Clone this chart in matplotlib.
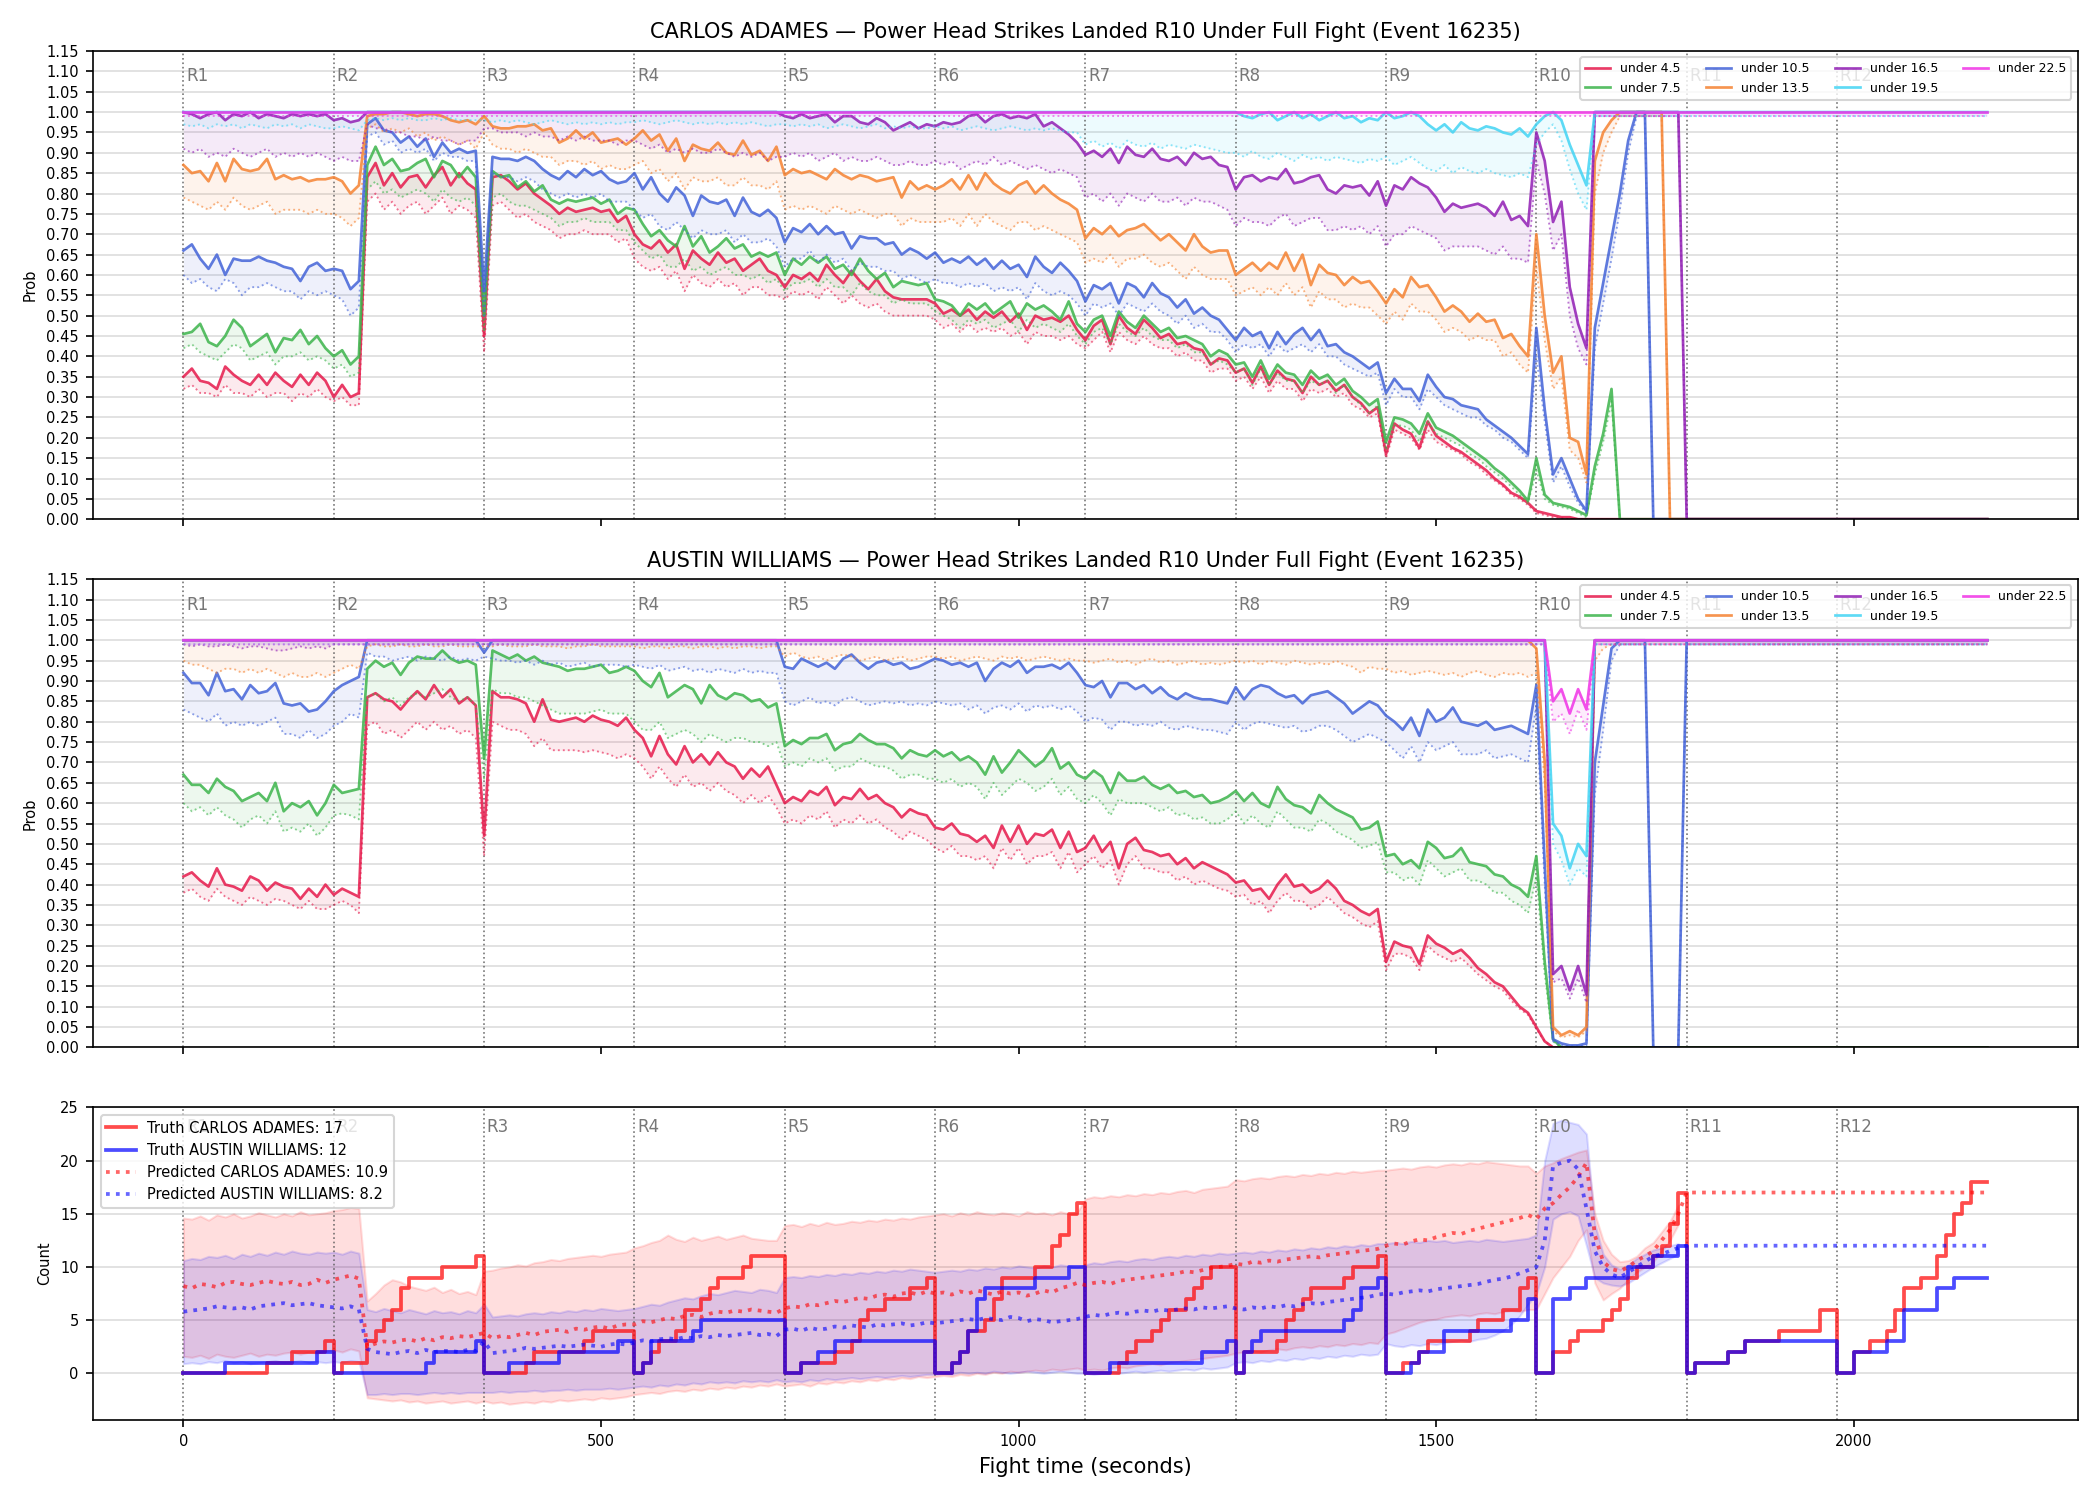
import numpy as np
import matplotlib
matplotlib.use("Agg")
import matplotlib.pyplot as plt

# sampling grid (seconds), one value every 10 s
t = np.arange(0, 2161, 10)
round_starts = list(range(0, 2160, 180))


def pct(*parts):
    # rounds R1..R10 have 18 samples, tail (R11-R12) has 37
    out = []
    for i, p in enumerate(parts):
        want = 37 if i == 10 else 18
        if len(p) != want:
            raise ValueError("part %d has %d values" % (i, len(p)))
        out.extend(p)
    return np.array(out, float) / 100.0


def cnt(*parts):
    out = []
    for i, p in enumerate(parts):
        want = 37 if i == 10 else (19 if i == 11 else 18)
        if len(p) != want:
            raise ValueError("count part %d has %d values" % (i, len(p)))
        out.extend(p)
    return np.array(out, float)


ONE = [100] * 18
ONE99 = [99] * 18
ZERO = [0] * 18

lines = ["under 4.5", "under 7.5", "under 10.5", "under 13.5",
         "under 16.5", "under 19.5", "under 22.5"]
colors = ["#e6194B", "#3cb44b", "#4363d8", "#f58231", "#911eb4", "#42d4f4", "#f032e6"]

# ---------------- CARLOS ADAMES (top) ----------------
c45 = pct(
    [35, 37, 34, 33.5, 32, 37.5, 35.5, 34, 33, 35.5, 33, 36, 34, 32.5, 35.5, 33, 36, 34],
    [30, 33, 30, 31, 84, 87.5, 82, 85, 81.5, 84, 84.5, 81.5, 84.5, 86.5, 82, 85, 82.5, 81],
    [45, 84, 84.5, 83, 81, 82.5, 80, 78.5, 77, 75, 76.5, 75.5, 76, 76.5, 75.5, 76, 73, 74.5],
    [70, 67.5, 66.5, 68.5, 65.5, 67.5, 61.5, 66, 64, 62.5, 65.5, 63, 64, 61, 62.5, 64, 61, 60],
    [57, 60, 59, 60.5, 58.5, 62.5, 60, 58, 61, 58.5, 56.5, 59, 56, 54.5, 54, 54, 54, 54],
    [53, 50.5, 51.5, 50, 51.5, 49, 51, 49.5, 51, 48.5, 50.5, 46.5, 50, 49, 49.5, 48.5, 50, 46.5],
    [44, 47.5, 49, 43, 50, 47, 45.5, 49, 47, 44.5, 45.5, 43, 43.5, 42, 41.5, 38, 39.5, 39],
    [36, 37, 33.5, 37.5, 33, 36.5, 34.5, 34, 31, 35, 33, 34, 31.5, 33, 30, 28.5, 26, 27.5],
    [16, 23.5, 22, 21, 17.5, 24, 20.5, 19, 17.5, 16.5, 15, 13.5, 12, 10, 8.5, 6.5, 5.5, 4],
    [2, 1.5, 1, 0.5, 0.5, 0, 0, 0, 0, 0, 0, 0, 0, 0, 0, 0, 0, 0],
    [0] * 37)
c45_lo = pct(
    [32, 33, 31, 31, 30, 33, 31, 31, 30, 32, 30, 31, 31, 29, 31, 30, 32, 30],
    [29, 30, 28, 28, 78, 80, 76, 78, 75, 77, 78, 75, 77, 79, 75, 77, 76, 74],
    [41, 77, 78, 76, 74, 75, 73, 72, 71, 69, 70, 70, 71, 70, 70, 70, 68, 69],
    [64, 62, 61, 62, 59, 61, 56, 60, 58, 57, 59, 57, 58, 55, 57, 57, 55, 55],
    [54, 56, 55, 56, 54, 57, 55, 53, 55, 53, 52, 53, 51, 50, 50, 50, 50, 50],
    [49, 47, 48, 46, 48, 46, 47, 46, 47, 45, 46, 43, 46, 45, 45, 44, 45, 43],
    [42, 44, 46, 41, 46, 44, 43, 45, 43, 42, 42, 40, 41, 39, 39, 36, 37, 37],
    [34, 35, 32, 35, 31, 34, 32, 32, 29, 32, 31, 32, 30, 31, 28, 27, 25, 26],
    [15, 22, 21, 20, 17, 22, 19, 18, 17, 16, 14, 13, 11, 9.5, 8, 6, 5, 3.5],
    [1.5, 1, 0.5, 0.3, 0, 0, 0, 0, 0, 0, 0, 0, 0, 0, 0, 0, 0, 0],
    [0] * 37)

c75 = pct(
    [45.5, 46, 48, 43.5, 42.5, 45, 49, 47, 42.5, 44, 45.5, 41, 44.5, 44, 46.5, 43, 45, 42],
    [40, 41.5, 38, 40, 87, 91.5, 87, 88.5, 85.5, 86, 87.5, 88.5, 84, 88, 87, 84, 86.5, 84],
    [50, 85.5, 84, 84.5, 81.5, 83, 80.5, 82, 78.5, 77.5, 78.5, 78, 78.5, 79, 77.5, 78.5, 75, 76.5],
    [76, 72.5, 69.5, 71, 68.5, 67, 72, 67, 69.5, 65.5, 67, 69, 66.5, 67.5, 64.5, 65.5, 64.5, 65.5],
    [60, 64, 62.5, 64.5, 63, 64.5, 61.5, 62.5, 60, 64, 61, 59, 60.5, 57, 58.5, 58, 57.5, 58],
    [54, 53.5, 52.5, 50, 53, 51.5, 53, 50.5, 52, 53.5, 49.5, 53, 51.5, 52.5, 51, 49, 53.5, 48],
    [46, 49, 50, 45, 51, 48.5, 47, 50, 48, 46, 47, 44.5, 45, 44, 43, 40, 41.5, 40.5],
    [38, 38.5, 35, 39, 34.5, 38, 36, 35.5, 33, 36.5, 34.5, 35.5, 33, 34.5, 31.5, 30, 28, 29.5],
    [19, 25, 24.5, 23.5, 21, 26, 22.5, 21.5, 20.5, 19, 17.5, 16, 14.5, 12.5, 11, 9, 7, 4.5],
    [15, 6, 4, 3.5, 3, 2, 1, 13, 21, 32, 0, 0, 0, 0, 0, 0, 0, 0],
    [0] * 37)
c75_lo = pct(
    [42, 43, 41, 40, 39, 41, 43, 42, 39, 40, 41, 38, 40, 40, 41, 39, 40, 39],
    [37, 38, 35, 36, 81, 83, 80, 81, 79, 80, 81, 80, 78, 81, 79, 78, 79, 77],
    [46, 79, 80, 78, 77, 77, 76, 75, 74, 72, 73, 73, 74, 73, 73, 73, 71, 71],
    [68, 66, 64, 65, 62, 62, 64, 61, 62, 60, 61, 62, 60, 60, 59, 60, 58, 59],
    [56, 58, 58, 59, 57, 59, 57, 57, 55, 58, 56, 55, 55, 53, 54, 53, 53, 53],
    [51, 50, 49, 47, 49, 48, 49, 47, 48, 49, 46, 49, 47, 48, 47, 46, 48, 45],
    [43, 46, 47, 43, 48, 46, 45, 47, 45, 44, 44, 42, 43, 41, 41, 38, 39, 38],
    [36, 37, 33, 37, 33, 36, 34, 34, 31, 34, 33, 34, 31, 33, 30, 28, 26, 28],
    [17, 23, 23, 22, 19, 24, 21, 20, 19, 18, 16, 15, 13, 11.5, 10, 8, 6, 4],
    [12, 5, 3.5, 3, 2.5, 1.5, 0.5, 11, 19, 29, 0, 0, 0, 0, 0, 0, 0, 0],
    [0] * 37)

c105 = pct(
    [66, 67.5, 64, 61.5, 65, 60, 64, 63.5, 63.5, 64.5, 63.5, 63, 62, 61.5, 58.5, 62, 63, 61],
    [61.5, 61, 56.5, 58.5, 97, 98.5, 95.5, 95, 92.5, 94, 91.5, 93.5, 89, 92.5, 90, 91, 90, 90.5],
    [56, 89, 88.5, 88.5, 88, 89, 88, 86, 84.5, 83.5, 85.5, 84, 86, 84.5, 85.5, 83.5, 82.5, 83],
    [85, 81, 84, 80, 78, 81.5, 79.5, 74.5, 79.5, 78, 77.5, 78.5, 74.5, 79, 75.5, 74.5, 76, 74],
    [68, 71.5, 70.5, 72.5, 70, 72, 70, 70.5, 66.5, 69.5, 69, 69, 67.5, 68, 65, 66.5, 65.5, 64],
    [65.5, 63, 64, 63, 64.5, 62.5, 64, 61.5, 63.5, 61.5, 62.5, 59.5, 64.5, 62, 60.5, 63, 61, 58.5],
    [53.5, 57.5, 56.5, 58, 53, 58, 57, 54.5, 58, 55.5, 54.5, 52, 54, 50.5, 52, 50, 49, 46.5],
    [44, 47, 45, 46, 42, 46, 43, 45.5, 47, 44, 46.5, 42.5, 43, 41, 40, 38.5, 37, 38.5],
    [31, 34.5, 32, 32, 29, 35.5, 32.5, 30, 29.5, 28, 27.5, 27, 24.5, 23, 21.5, 20, 18, 16],
    [47, 27, 11, 15, 10, 5, 2, 47, 58, 69, 80, 93, 100, 100, 0, 0, 0, 0],
    [0] * 37)
c105_lo = pct(
    [60, 58, 59, 57, 56, 59, 58, 55, 57, 57, 58, 57, 56, 56, 54, 56, 55, 56],
    [55, 54, 50, 52, 94, 95, 92, 93, 90, 91, 90, 91, 88, 90, 89, 89, 88, 88],
    [50, 85, 84, 84, 83, 84, 83, 81, 80, 79, 80, 79, 80, 79, 80, 78, 78, 78],
    [76, 74, 75, 72, 71, 73, 71, 69, 71, 70, 70, 71, 68, 70, 68, 68, 69, 67],
    [62, 64, 64, 66, 63, 65, 63, 64, 61, 63, 62, 62, 61, 61, 59, 60, 59, 58],
    [59, 58, 58, 57, 58, 57, 58, 56, 57, 56, 57, 54, 58, 56, 55, 56, 55, 53],
    [50, 53, 52, 53, 50, 53, 52, 51, 53, 51, 50, 48, 50, 47, 48, 46, 46, 44],
    [41, 43, 42, 43, 40, 43, 41, 42, 43, 41, 43, 40, 40, 38, 37, 36, 35, 36],
    [28, 32, 30, 30, 27, 32, 30, 28, 27, 26, 25, 25, 23, 22, 20, 19, 17, 15],
    [40, 24, 9, 13, 8, 4, 1.5, 42, 53, 64, 76, 90, 99, 99, 0, 0, 0, 0],
    [0] * 37)

c135 = pct(
    [87, 85, 85.5, 83, 87.5, 83, 88.5, 86, 85.5, 86, 88.5, 83.5, 84.5, 83.5, 84, 83, 83.5, 83.5],
    [84, 83, 80, 82, 99, 99.5, 99.5, 100, 100, 99.5, 99, 99.5, 99.5, 99, 98, 97.5, 98, 97],
    [99, 96.5, 96, 96, 96.5, 96.5, 97, 95.5, 96, 92.5, 93.5, 95.5, 93.5, 95, 92.5, 93, 93.5, 92],
    [93.5, 95.5, 93, 94.5, 90.5, 93.5, 88, 92, 91, 90.5, 92.5, 90, 89.5, 93, 89.5, 90.5, 88, 91.5],
    [84.5, 86, 85, 85.5, 84.5, 83.5, 86, 84.5, 83.5, 84.5, 84, 83, 83.5, 84, 79, 83, 81, 82],
    [81, 82, 83.5, 81, 84.5, 81, 85, 82.5, 81, 80, 82, 83, 80, 82, 80, 78.5, 77.5, 76],
    [69, 71.5, 70, 72, 69.5, 71, 71.5, 72.5, 70.5, 68.5, 70, 68, 66, 70, 67, 65.5, 66, 66],
    [60, 61.5, 63, 61, 63, 61.5, 65.5, 61, 65, 57.5, 62.5, 60.5, 60, 57.5, 59.5, 58, 58.5, 56],
    [53, 56.5, 54.5, 59.5, 57, 57.5, 54.5, 51, 52.5, 51, 48.5, 50.5, 48.5, 49, 44.5, 45.5, 42.5, 40],
    [70, 50, 36, 40, 20, 19, 11, 88, 95, 98, 100, 100, 100, 100, 100, 100, 0, 0],
    [0] * 37)
c135_lo = pct(
    [79, 78, 77, 76, 78, 76, 79, 77, 76, 77, 78, 75, 76, 76, 76, 75, 76, 75],
    [75, 74, 72, 74, 96, 97, 95, 96, 95, 96, 94, 95, 93, 94, 93, 92, 93, 91],
    [95, 92, 91, 91, 90, 91, 90, 89, 89, 87, 88, 88, 87, 88, 86, 87, 86, 86],
    [87, 88, 85, 86, 83, 85, 81, 84, 83, 83, 84, 82, 82, 84, 82, 82, 81, 83],
    [76, 77, 76, 77, 76, 75, 77, 76, 75, 76, 75, 74, 75, 75, 72, 74, 73, 73],
    [73, 73, 74, 72, 75, 72, 75, 73, 72, 71, 73, 73, 71, 72, 71, 70, 69, 68],
    [63, 64, 63, 65, 62, 64, 64, 65, 63, 62, 63, 61, 59, 62, 60, 59, 59, 59],
    [55, 56, 57, 55, 57, 55, 58, 55, 57, 52, 56, 54, 54, 52, 53, 52, 52, 50],
    [48, 51, 49, 53, 51, 51, 49, 46, 47, 46, 44, 45, 44, 44, 40, 41, 38, 36],
    [62, 44, 32, 35, 17, 15, 9, 80, 90, 95, 99, 99, 99, 99, 99, 99, 0, 0],
    [0] * 37)

c165 = pct(
    [100, 99.5, 98.5, 99.5, 100, 98, 99.5, 99, 100, 98.5, 99.5, 99, 98.5, 99.5, 99, 99.5, 99, 99.5],
    [98, 98.5, 97.5, 98] + [100] * 14,
    ONE,
    ONE,
    [99, 98.5, 99.5, 98.5, 99, 99.5, 97.5, 99, 99, 97.5, 97, 98.5, 97.5, 95.5, 96.5, 97.5, 96, 97],
    [96.5, 97.5, 97, 97.5, 99, 99.5, 97.5, 99, 99.5, 98.5, 99, 98.5, 99.5, 96.5, 97.5, 96, 94.5, 92.5],
    [89.5, 90.5, 89, 91, 87.5, 91.5, 89.5, 89, 91, 88.5, 88, 89, 87, 90, 88.5, 89, 87, 86.5],
    [81, 84, 84.5, 83, 84, 83.5, 86, 82.5, 83, 84, 84.5, 81, 80, 82, 81.5, 82, 79.5, 83],
    [77, 82, 81, 84, 82.5, 81.5, 79, 75.5, 77.5, 76.5, 77, 77.5, 76.5, 74.5, 78, 73.5, 74.5, 72],
    [95, 88, 73, 78, 57, 48, 42] + [100] * 11,
    [0] * 37)
c165_lo = pct(
    [91, 90, 91, 89, 90, 89, 91, 90, 89, 90, 91, 89, 90, 89, 90, 89, 90, 89],
    [88, 89, 88, 88, 97, 96, 96, 95, 95, 94, 94, 93, 94, 93, 93, 92, 93, 93],
    [96, 96, 95, 95, 95, 94, 95, 94, 94, 93, 94, 93, 94, 93, 93, 93, 92, 93],
    [93, 92, 91, 92, 90, 91, 90, 91, 90, 90, 91, 90, 89, 90, 89, 90, 88, 89],
    [89, 90, 89, 90, 88, 89, 90, 88, 89, 88, 88, 89, 88, 87, 87, 88, 87, 87],
    [88, 87, 88, 86, 87, 88, 87, 89, 87, 88, 87, 86, 87, 86, 85, 86, 85, 84],
    [79, 80, 78, 80, 77, 80, 79, 78, 80, 78, 78, 79, 77, 79, 78, 78, 77, 76],
    [72, 74, 73, 73, 72, 74, 75, 72, 73, 74, 74, 71, 71, 72, 71, 72, 70, 72],
    [67, 70, 70, 72, 71, 70, 69, 66, 67, 67, 67, 67, 66, 65, 67, 64, 64, 63],
    [88, 80, 66, 70, 50, 42, 38] + [99] * 11,
    [0] * 37)

c195 = pct(ONE, ONE, ONE, ONE, ONE, ONE, ONE,
    [100, 99, 98.5, 99.5, 100, 98, 99, 100, 98.5, 99.5, 98, 99, 100, 98.5, 99, 97.5, 98.5, 98],
    [100, 98.5, 99, 100, 99, 97, 95.5, 97, 95, 97.5, 96, 95.5, 96.5, 96, 95, 94.5, 96, 94],
    [97, 99, 100, 98, 92, 87, 82] + [100] * 11,
    [100] * 37)
c195_lo = pct(
    [97, 96.5, 97, 96, 97, 96.5, 97, 96, 97, 96.5, 96, 97, 96.5, 97, 96, 97, 96.5, 96],
    [96, 96.5, 96, 95.5, 98, 98.5, 98, 98.5, 98, 98.5, 98, 98, 98.5, 98, 98.5, 98, 98, 98],
    [98, 97.5, 98, 97.5, 98, 97.5, 97, 97.5, 98, 97.5, 97, 97.5, 97, 97.5, 97, 97.5, 97, 97.5],
    [97.5, 98, 97.5, 97, 97.5, 98, 97.5, 97, 97.5, 97, 97.5, 97, 97.5, 97, 97.5, 97, 96.5, 97],
    [97, 96.5, 97, 96.5, 97, 96, 96.5, 97, 96.5, 96, 96.5, 97, 96, 96.5, 96, 96.5, 96, 96],
    [96.5, 96, 96.5, 95.5, 96, 96.5, 96, 95.5, 96, 96.5, 96, 95.5, 96, 95.5, 96, 95.5, 95, 95],
    [92, 93, 91.5, 92.5, 91, 93, 92, 91.5, 92.5, 91, 92, 91.5, 91, 92, 91.5, 91, 90.5, 90],
    [90, 89, 90.5, 89, 88.5, 90, 89, 88, 89.5, 88.5, 89, 88, 89, 88.5, 88, 87.5, 88.5, 88],
    [89, 87, 88, 89, 87.5, 86, 85.5, 87, 85, 86.5, 85.5, 85, 86, 85, 84.5, 84, 85, 84],
    [92, 95, 97, 93, 86, 80, 76] + [99] * 11,
    [99] * 37)

c225 = pct(ONE, ONE, ONE, ONE, ONE, ONE, ONE, ONE, ONE, ONE, [100] * 37)
c225_lo = pct(ONE99, ONE99, ONE99, ONE99, ONE99, ONE99, ONE99, ONE99, ONE99, ONE99, [99] * 37)

# ---------------- AUSTIN WILLIAMS (middle) ----------------
a45 = pct(
    [42, 43, 41, 39.5, 44, 40, 39.5, 38.5, 42, 41, 38.5, 40.5, 39.5, 39, 36.5, 39, 37, 40],
    [37.5, 39, 38, 37, 86, 87, 85.5, 85, 83, 85.5, 87.5, 85.5, 89, 86, 88, 84.5, 86, 84],
    [52, 87.5, 86, 86, 85.5, 84.5, 80, 85.5, 80.5, 80, 80.5, 81, 80, 81.5, 80.5, 80, 79, 81],
    [78, 76, 71.5, 76.5, 72, 69.5, 74, 70, 72, 69.5, 72.5, 70, 69, 66, 68.5, 66.5, 69, 64.5],
    [60, 61.5, 60.5, 63, 62, 64, 59.5, 61.5, 61, 63.5, 61, 62, 60, 59, 56.5, 58.5, 57.5, 57],
    [54, 53.5, 55, 52.5, 52, 50.5, 52, 49, 54.5, 50.5, 54.5, 50, 52.5, 52, 53.5, 49, 53, 48],
    [49, 52, 48, 50.5, 44, 50, 51.5, 48.5, 48, 47, 47.5, 45, 46.5, 44, 45.5, 44.5, 43.5, 42.5],
    [40.5, 41, 38.5, 39, 36.5, 40, 42.5, 39.5, 40, 38, 39, 41, 39, 36, 35, 33.5, 32.5, 34],
    [21, 26, 25, 24.5, 20.5, 27.5, 25.5, 24.5, 23, 24, 22, 19.5, 18, 16, 15, 12.5, 10, 8.5],
    [5, 1.5] + [0] * 16,
    [0] * 37)
a45_lo = pct(
    [38, 39, 37, 36, 39, 37, 36, 35, 37, 36, 35, 36.5, 36, 35, 34, 36, 34, 34],
    [35, 36, 35, 33, 79, 80, 77, 78, 76, 78, 80, 78, 80, 78, 79, 77, 78, 76],
    [47, 80, 79, 78, 78, 77, 74, 76, 73, 73, 73, 73, 72.5, 73, 72.5, 72, 71, 72],
    [71, 69, 66, 69, 66, 64, 67, 64, 65, 63, 65, 63, 62, 60, 62, 60, 62, 59],
    [55, 56, 55, 57, 56, 58, 54, 56, 55, 57, 55, 56, 54, 53, 51, 53, 52, 51],
    [49, 48, 49.5, 47, 47, 46, 47, 44, 49, 46, 49, 45, 47, 47, 48, 44, 48, 43],
    [45, 47, 44, 46, 40, 45, 47, 44, 44, 43, 43, 41, 42, 40, 41, 40, 39, 38.5],
    [37, 37.5, 35, 36, 33, 36, 38, 36, 36, 34, 35, 37, 35, 33, 32, 30.5, 29.5, 31],
    [19, 23, 23, 22, 19, 25, 23, 22, 21, 22, 20, 18, 16.5, 15, 14, 11.5, 9.5, 8],
    [4.5, 1.5] + [0] * 16,
    [0] * 37)

a75 = pct(
    [67, 64.5, 64.5, 62.5, 66, 64, 63, 60.5, 61.5, 62.5, 60.5, 65, 58, 60, 59, 60.5, 57, 60],
    [64.5, 62.5, 63, 63.5, 93, 95, 93.5, 94.5, 91.5, 94.5, 96, 95.5, 95.5, 97.5, 95.5, 94.5, 95, 94],
    [71, 97.5, 96.5, 95.5, 96.5, 95, 96, 94.5, 94, 93.5, 92.5, 93, 93, 93.5, 94, 92, 92.5, 93.5],
    [92.5, 90, 88.5, 92, 86, 87.5, 89, 88, 84.5, 89, 86.5, 85.5, 87, 86.5, 85, 85.5, 83.5, 84.5],
    [74, 75.5, 74.5, 76, 76, 77, 73, 74.5, 75, 77, 75.5, 74.5, 74.5, 73.5, 71, 73, 72, 71.5],
    [73, 71.5, 72.5, 70.5, 71.5, 70, 67, 71.5, 67.5, 70, 73, 71, 69, 70.5, 73.5, 68.5, 70, 67],
    [66, 68, 66.5, 62.5, 67.5, 65.5, 65.5, 66.5, 64.5, 63.5, 64.5, 62.5, 63, 61.5, 62, 60, 60.5, 61.5],
    [63, 60.5, 62.5, 60, 59, 64, 61, 59.5, 59, 57.5, 62, 60, 58.5, 57.5, 56.5, 53.5, 54, 55.5],
    [47, 47.5, 45, 46, 44, 50.5, 49, 46.5, 47, 49, 45.5, 45, 44.5, 42.5, 42, 40, 39, 37],
    [47, 21, 2] + [0] * 15,
    [0] * 37)
a75_lo = pct(
    [60, 58, 59, 57, 59, 57, 56, 54, 56, 57, 55, 58, 53, 54, 53, 55, 52, 54],
    [57, 57.5, 57, 56, 86, 87, 85, 86, 84, 86, 87, 86, 87, 88, 86, 85, 86, 84],
    [66, 88, 87, 87, 86, 86, 85, 84, 83, 82, 82, 82, 82, 82.5, 83, 82, 82, 82],
    [80, 78, 78, 80, 76, 77, 78, 77, 75, 77, 76, 75, 76, 76, 75, 75, 74, 75],
    [69, 70, 69, 71, 70, 71, 68, 69, 69, 71, 70, 69, 69, 68, 66, 67, 67, 66],
    [66, 65, 66, 64, 65, 64, 61, 65, 62, 64, 66, 65, 63, 64, 66, 62, 64, 61],
    [60, 62, 60, 57, 61, 60, 60, 60, 59, 58, 59, 57, 57.5, 56, 56.5, 55, 55, 56],
    [58, 55, 57, 55, 54, 58, 56, 54, 54, 53, 56, 55, 53, 52, 51, 49, 49.5, 50.5],
    [43, 43, 41, 42, 40, 46, 44, 42, 43, 44, 41, 41, 40, 38, 38, 36, 35, 33],
    [42, 18, 1.5] + [0] * 15,
    [0] * 37)

a105 = pct(
    [92, 89.5, 89.5, 86.5, 92, 87.5, 88, 85.5, 89, 87, 87.5, 89.5, 84.5, 84, 84.5, 82.5, 83, 85],
    [87.5, 89, 90, 91] + [100] * 14,
    [97] + [100] * 17,
    ONE,
    [93.5, 93, 95.5, 94.5, 93.5, 94.5, 93, 95.5, 96.5, 94.5, 93, 94.5, 95, 94, 94.5, 93, 93.5, 94.5],
    [95.5, 95, 94, 94.5, 93.5, 94.5, 90, 93, 94.5, 93.5, 95, 92, 93.5, 93.5, 94, 93, 94.5, 92],
    [89, 88.5, 90, 86, 89.5, 89.5, 88, 89, 87, 88.5, 86.5, 85.5, 87, 86, 85.5, 85.5, 85, 84.5],
    [88.5, 85.5, 88, 89, 88.5, 87, 86, 86.5, 84.5, 86.5, 87, 87.5, 86, 84.5, 82, 83.5, 85, 84],
    [81.5, 80, 78, 81, 76.5, 83, 80, 81, 83.5, 80, 79.5, 79, 80, 78, 78.5, 79, 78, 77],
    [89, 45, 2, 1, 0.5, 0.5, 1, 70, 84, 98, 100, 100, 100, 100, 0, 0, 0, 0],
    [100] * 37)
a105_lo = pct(
    [83, 82, 81, 80, 82, 79, 80, 79, 80, 79, 80, 81, 77, 77, 76, 78, 76, 77],
    [79, 80, 82, 81, 97, 96, 96, 95, 95.5, 96, 95, 96, 95.5, 95, 96, 95, 95.5, 95],
    [96, 95.5, 95, 95, 94.5, 95, 94, 95, 94, 94.5, 93.5, 94, 94.5, 93.5, 94, 94, 94, 93.5],
    [94, 93.5, 93, 94, 92.5, 93, 93.5, 92.5, 93, 92, 93, 92.5, 92, 93, 92, 92.5, 92, 92],
    [85, 84, 85, 86, 84.5, 85, 84, 85.5, 86, 85, 84, 84.5, 85, 84.5, 85, 84, 84.5, 84],
    [85, 84.5, 84, 84.5, 83, 84, 82, 83.5, 84, 83, 84.5, 82.5, 84, 83.5, 84, 83, 84, 82.5],
    [80, 81, 80.5, 78, 80, 80, 79, 79.5, 79, 80, 78.5, 78, 79, 78.5, 78, 78, 77.5, 77],
    [80, 78, 79.5, 80, 79.5, 79, 78.5, 79, 77.5, 78, 79, 79, 78, 76.5, 75, 76, 77, 76],
    [75, 73, 71, 74, 70, 75, 73, 74, 75, 72, 72, 72, 73, 71, 71.5, 72, 71, 70],
    [84, 40, 1.5, 0.5, 0.3, 0.3, 0.5, 62, 78, 95, 99, 99, 99, 99, 0, 0, 0, 0],
    [99] * 37)

a135 = pct(ONE, ONE, ONE, ONE, ONE, ONE, ONE, ONE, ONE,
    [98, 70, 5, 3, 4, 3, 5] + [100] * 11,
    [100] * 37)
a135_lo = pct(
    [95, 94, 94, 93, 92, 93, 93, 92, 93, 92, 93, 92, 91, 92, 91, 91, 92, 91],
    [92, 93, 94, 93, 98.5, 99, 98.5, 98.5, 99, 98.5, 98.5, 99, 98.5, 98.5, 99, 98.5, 98.5, 98.5],
    [98.5, 98.5, 99, 98.5, 98.5, 98.5, 99, 98.5, 98.5, 98.5, 98, 98.5, 98.5, 99, 98.5, 98.5, 98.5, 98.5],
    [98.5, 98, 98.5, 98.5, 98, 98.5, 98.5, 98, 98.5, 98.5, 98, 98.5, 98, 98.5, 98.5, 98, 98.5, 98.5],
    [96, 97, 96, 95.5, 96, 95, 96, 96.5, 96, 95, 95.5, 96, 95, 95.5, 96, 95, 95.5, 96],
    [96, 95.5, 96, 95, 95.5, 96, 95.5, 95, 96, 95.5, 96, 95, 95.5, 96, 95.5, 95, 95.5, 95],
    [95, 94.5, 95, 95.5, 94.5, 95, 94, 95, 95.5, 94.5, 95, 94, 94.5, 95, 94, 94.5, 94, 94.5],
    [95, 94.5, 95, 94, 95, 94.5, 94, 95, 94.5, 94, 94.5, 94, 95, 94, 93.5, 92, 93.5, 93],
    [93, 92, 92.5, 91.5, 92, 92.5, 92, 91.5, 92, 91, 92, 92.5, 91.5, 91, 92, 91.5, 92, 91],
    [92, 65, 4, 2.5, 3, 2.5, 4, 95, 98] + [99] * 9,
    [99] * 37)

a165 = pct(ONE, ONE, ONE, ONE, ONE, ONE, ONE, ONE, ONE,
    [100, 100, 18, 20, 14, 20, 13] + [100] * 11,
    [100] * 37)
a165_lo = pct(
    [99, 98.5, 99, 98.5, 98.5, 99, 98.5, 98, 98.5, 98.5, 98, 97.5, 97.5, 98, 98.5, 98, 98.5, 98],
    ONE99, ONE99, ONE99, ONE99, ONE99, ONE99, ONE99, ONE99,
    [99, 99, 16, 17, 12, 17, 11] + [99] * 11,
    [99] * 37)

a195 = pct(ONE, ONE, ONE, ONE, ONE, ONE, ONE, ONE, ONE,
    [100, 100, 55, 52, 44, 50, 47] + [100] * 11,
    [100] * 37)
a195_lo = pct(ONE99, ONE99, ONE99, ONE99, ONE99, ONE99, ONE99, ONE99, ONE99,
    [99, 99, 50, 46, 40, 44, 42] + [99] * 11,
    [99] * 37)

a225 = pct(ONE, ONE, ONE, ONE, ONE, ONE, ONE, ONE, ONE,
    [100, 100, 85, 88, 82, 88, 83] + [100] * 11,
    [100] * 37)
a225_lo = pct(ONE99, ONE99, ONE99, ONE99, ONE99, ONE99, ONE99, ONE99, ONE99,
    [99, 99, 80, 82, 77, 83, 78] + [99] * 11,
    [99] * 37)

# ---------------- counts (bottom) ----------------
truth_ca = cnt(
    [0, 0, 0, 0, 0, 0, 0, 0, 0, 0, 1, 1, 1, 2, 2, 2, 2, 3],
    [0, 1, 1, 1, 3, 4, 5, 6, 8, 9, 9, 9, 9, 10, 10, 10, 10, 11],
    [0, 0, 0, 0, 0, 1, 2, 2, 2, 2, 2, 2, 3, 4, 4, 4, 4, 4],
    [0, 1, 2, 3, 3, 4, 6, 6, 7, 8, 9, 9, 9, 10, 11, 11, 11, 11],
    [0, 0, 1, 1, 1, 1, 2, 2, 3, 5, 6, 6, 7, 7, 7, 8, 8, 9],
    [0, 0, 1, 2, 4, 4, 5, 7, 9, 9, 9, 9, 10, 10, 12, 13, 15, 16],
    [0, 0, 0, 0, 1, 2, 3, 3, 4, 5, 6, 6, 7, 8, 9, 10, 10, 10],
    [0, 2, 2, 2, 2, 3, 5, 6, 7, 8, 8, 8, 8, 9, 10, 10, 10, 11],
    [0, 0, 1, 1, 2, 3, 3, 3, 3, 3, 4, 5, 5, 5, 6, 6, 8, 9],
    [0, 0, 2, 2, 3, 4, 4, 4, 5, 6, 7, 9, 10, 10, 11, 12, 14, 17],
    [0, 1, 1, 1, 1, 2, 2, 3, 3, 3, 3, 4, 4, 4, 4, 4, 6, 6] +
    [0, 0, 2, 2, 3, 3, 4, 6, 8, 8, 9, 9, 11, 13, 15, 16, 18, 18, 18])
truth_aw = cnt(
    [0, 0, 0, 0, 0, 1, 1, 1, 1, 1, 1, 1, 1, 1, 1, 1, 2, 2],
    [0, 0, 0, 0, 0, 0, 0, 0, 0, 0, 0, 1, 2, 2, 2, 2, 2, 3],
    [0, 0, 0, 1, 1, 1, 1, 1, 1, 2, 2, 2, 2, 2, 2, 2, 3, 3],
    [0, 1, 3, 3, 3, 3, 3, 4, 5, 5, 5, 5, 5, 5, 5, 5, 5, 5],
    [0, 0, 1, 1, 2, 2, 3, 3, 3, 3, 3, 3, 3, 3, 3, 3, 3, 3],
    [0, 0, 1, 2, 4, 7, 8, 8, 8, 8, 8, 8, 9, 9, 9, 9, 10, 10],
    [0, 0, 0, 1, 1, 1, 1, 1, 1, 1, 1, 1, 1, 1, 2, 2, 2, 3],
    [0, 2, 3, 4, 4, 4, 4, 4, 4, 4, 4, 4, 4, 5, 6, 8, 8, 9],
    [0, 0, 0, 1, 2, 2, 2, 4, 4, 4, 4, 4, 4, 4, 4, 5, 5, 7],
    [0, 0, 7, 7, 8, 8, 9, 9, 9, 9, 9, 10, 10, 10, 11, 11, 11, 12],
    [0, 1, 1, 1, 1, 2, 2, 3, 3, 3, 3, 3, 3, 3, 3, 3, 3, 3] +
    [0, 0, 2, 2, 2, 2, 3, 3, 6, 6, 6, 6, 8, 8, 9, 9, 9, 9, 9])

pred_ca = cnt(
    [8.2, 8.0, 8.4, 8.3, 8.1, 8.5, 8.6, 8.4, 8.3, 8.5, 8.7, 8.5, 8.4, 8.6, 8.3, 8.4, 8.8, 8.5],
    [8.8, 9.0, 9.2, 8.9, 2.5, 2.8, 3.0, 2.9, 3.1, 3.2, 3.0, 3.3, 3.1, 3.4, 3.3, 3.5, 3.4, 3.6],
    [3.8, 3.3, 3.5, 3.4, 3.6, 3.8, 3.6, 3.9, 4.0, 4.1, 3.9, 4.2, 4.1, 4.3, 4.4, 4.2, 4.5, 4.6],
    [4.6, 4.9, 4.8, 5.0, 5.2, 5.1, 5.4, 5.5, 5.3, 5.6, 5.8, 5.7, 5.9, 5.8, 6.0, 5.9, 5.8, 5.7],
    [6.1, 6.3, 6.2, 6.5, 6.4, 6.6, 6.8, 6.7, 6.9, 7.1, 7.0, 7.3, 7.4, 7.2, 7.5, 7.6, 7.4, 7.7],
    [7.5, 7.6, 7.4, 7.7, 7.5, 7.8, 7.6, 7.4, 7.7, 7.5, 7.6, 7.3, 7.5, 7.8, 7.6, 8.0, 8.2, 8.5],
    [8.3, 8.5, 8.6, 8.4, 8.7, 8.8, 8.9, 9.0, 9.1, 9.2, 9.3, 9.4, 9.6, 9.5, 9.7, 9.9, 10.0, 10.1],
    [10.3, 10.2, 10.5, 10.4, 10.6, 10.5, 10.7, 10.8, 10.9, 11.0, 10.9, 11.1, 11.2, 11.3, 11.4, 11.5, 11.6, 11.7],
    [12.0, 12.2, 12.1, 12.4, 12.6, 12.5, 12.8, 13.0, 13.2, 13.1, 13.4, 13.6, 13.8, 14.0, 14.2, 14.4, 14.6, 14.9],
    [14.5, 15.5, 16.0, 16.8, 17.5, 18.5, 19.8, 13.0, 10.5, 9.8, 9.6, 10.0, 10.6, 11.0, 11.5, 12.5, 13.5, 15.0],
    [17] * 18 + [17] * 19)
pred_aw = cnt(
    [5.8, 5.9, 6.0, 6.1, 6.3, 6.2, 6.1, 6.2, 6.0, 6.3, 6.4, 6.5, 6.6, 6.4, 6.5, 6.6, 6.4, 6.3],
    [6.2, 6.1, 6.3, 6.0, 2.3, 2.0, 1.9, 1.8, 2.0, 2.1, 1.9, 2.2, 2.0, 2.1, 2.1, 2.0, 2.2, 2.1],
    [3.0, 1.9, 2.0, 2.1, 2.2, 2.4, 2.3, 2.4, 2.5, 2.6, 2.5, 2.6, 2.7, 2.6, 2.5, 2.7, 2.8, 2.7],
    [2.9, 3.1, 3.0, 3.2, 3.3, 3.2, 3.4, 3.3, 3.5, 3.4, 3.6, 3.5, 3.6, 3.7, 3.8, 3.6, 3.7, 3.5],
    [4.1, 4.2, 4.0, 4.3, 4.1, 4.2, 4.4, 4.3, 4.5, 4.4, 4.3, 4.6, 4.5, 4.6, 4.7, 4.5, 4.6, 4.8],
    [4.7, 4.8, 4.9, 5.0, 5.1, 5.0, 5.2, 5.1, 5.0, 5.3, 5.2, 4.9, 5.1, 5.0, 4.8, 4.9, 5.0, 5.1],
    [5.3, 5.5, 5.4, 5.6, 5.7, 5.6, 5.8, 5.9, 5.8, 6.0, 5.9, 6.0, 6.1, 6.0, 6.2, 6.1, 6.2, 6.3],
    [6.1, 6.0, 6.2, 6.1, 6.3, 6.2, 6.4, 6.3, 6.5, 6.6, 6.5, 6.7, 6.8, 6.9, 7.0, 7.1, 7.2, 7.4],
    [7.5, 7.4, 7.6, 7.7, 7.8, 7.7, 7.9, 8.0, 8.1, 8.2, 8.3, 8.4, 8.6, 8.8, 8.9, 9.1, 9.4, 9.7],
    [10.0, 12.5, 19.5, 19.8, 20.0, 19.2, 15.5, 11.5, 10.0, 9.3, 9.0, 9.5, 10.0, 10.5, 11.0, 11.2, 11.5, 11.8],
    [12] * 18 + [12] * 19)

# prediction bands, R1..R10 only (t = 0..1790)
ca_hi = np.array(
    [14.6, 14.5, 14.8, 14.4, 14.9, 14.7, 15.0, 14.6, 14.8, 15.1, 14.9, 14.7, 15.0, 14.8, 15.2, 14.9, 15.0, 15.1] +
    [15.3, 15.4, 15.6, 15.5, 6.8, 7.5, 8.3, 8.8, 8.6, 8.2, 8.0, 7.8, 8.1, 7.6, 7.9, 7.5, 7.7, 7.4] +
    [9.6, 9.7, 9.9, 10.0, 10.2, 10.1, 10.4, 10.5, 10.7, 10.6, 10.8, 10.9, 11.0, 11.1, 11.0, 11.2, 11.3, 11.4] +
    [11.8, 12.0, 12.3, 12.5, 13.0, 12.6, 12.4, 12.8, 12.5, 12.7, 12.9, 12.6, 12.8, 13.0, 12.7, 12.6, 12.5, 12.5] +
    [13.9, 14.0, 13.8, 14.1, 13.9, 14.2, 14.0, 14.1, 14.3, 14.2, 14.4, 14.3, 14.5, 14.4, 14.6, 14.5, 14.7, 14.8] +
    [14.9, 15.0, 14.8, 15.1, 14.9, 15.2, 15.0, 14.9, 15.1, 15.0, 14.8, 15.2, 15.0, 15.1, 14.9, 15.2, 15.0, 15.1] +
    [16.4, 16.6, 16.5, 16.7, 16.6, 16.8, 16.7, 16.9, 16.8, 17.0, 16.9, 17.1, 17.2, 17.0, 17.3, 17.4, 17.5, 17.6] +
    [18.2, 18.1, 18.3, 18.4, 18.3, 18.5, 18.6, 18.5, 18.7, 18.6, 18.8, 18.7, 18.9, 18.8, 19.0, 18.9, 19.0, 19.1] +
    [19.1, 19.2, 19.3, 19.2, 19.4, 19.5, 19.4, 19.6, 19.7, 19.6, 19.8, 19.7, 19.9, 19.8, 19.7, 19.6, 19.5, 19.5] +
    [18.8, 19.5, 19.8, 20.2, 20.5, 20.8, 21.0, 15.0, 12.5, 11.2, 10.5, 10.6, 11.0, 11.8, 12.3, 13.3, 14.3, 15.8])
ca_lo = np.array(
    [1.6, 1.5, 1.7, 1.4, 1.8, 1.6, 1.5, 1.7, 1.9, 1.6, 1.8, 1.7, 1.9, 2.0, 1.8, 2.0, 1.9, 2.1] +
    [2.2, 2.0, 2.3, 2.1, -2.3, -2.4, -2.5, -2.6, -2.5, -2.7, -2.6, -2.8, -2.7, -2.6, -2.8, -2.7, -2.6, -2.8] +
    [-2.6, -2.8, -2.7, -2.9, -2.8, -2.7, -2.8, -2.6, -2.7, -2.5, -2.6, -2.5, -2.4, -2.5, -2.3, -2.4, -2.3, -2.2] +
    [-2.0, -1.9, -1.8, -1.9, -1.7, -1.6, -1.7, -1.5, -1.6, -1.4, -1.5, -1.3, -1.4, -1.2, -1.3, -1.1, -1.2, -1.0] +
    [-1.2, -1.1, -1.0, -1.2, -0.9, -1.0, -0.8, -0.9, -0.7, -0.8, -0.6, -0.7, -0.5, -0.6, -0.4, -0.5, -0.3, -0.4] +
    [-0.3, -0.2, -0.3, -0.1, -0.2, 0.0, -0.1, 0.1, 0.0, 0.2, 0.1, 0.2, 0.3, 0.2, 0.4, 0.3, 0.4, 0.5] +
    [0.3, 0.4, 0.3, 0.5, 0.6, 0.5, 0.7, 0.8, 0.9, 0.8, 1.0, 1.1, 1.2, 1.3, 1.4, 1.5, 1.6, 1.7] +
    [1.9, 2.0, 2.1, 2.0, 2.2, 2.3, 2.2, 2.4, 2.5, 2.4, 2.6, 2.5, 2.7, 2.6, 2.8, 2.7, 2.9, 2.8] +
    [3.7, 3.9, 4.2, 4.5, 4.8, 5.0, 5.1, 5.3, 5.4, 5.5, 5.4, 5.6, 5.7, 5.6, 5.8, 5.9, 5.8, 6.0] +
    [6.0, 7.5, 9.0, 10.0, 11.0, 12.5, 13.5, 8.5, 6.9, 7.5, 8.0, 8.8, 9.5, 10.0, 10.5, 11.5, 12.5, 14.0])
aw_hi = np.array(
    [10.6, 10.8, 10.7, 11.0, 10.9, 11.1, 10.8, 11.2, 11.0, 11.3, 11.1, 11.4, 11.2, 11.5, 11.3, 11.2, 11.4, 11.3] +
    [11.4, 11.2, 11.5, 11.3, 6.0, 5.8, 6.1, 5.9, 5.7, 6.0, 5.8, 5.6, 5.9, 5.7, 5.8, 5.6, 5.9, 5.7] +
    [6.5, 5.3, 5.4, 5.5, 5.4, 5.6, 5.7, 5.6, 5.8, 5.7, 5.9, 5.8, 6.0, 5.9, 6.1, 6.0, 5.9, 6.0] +
    [6.1, 6.3, 6.5, 6.4, 6.7, 6.9, 7.1, 7.0, 7.3, 7.5, 7.4, 7.6, 7.8, 7.7, 7.6, 7.9, 7.8, 7.6] +
    [9.0, 9.1, 9.0, 9.2, 9.1, 9.3, 9.2, 9.4, 9.3, 9.5, 9.4, 9.6, 9.5, 9.7, 9.6, 9.8, 9.7, 9.6] +
    [9.5, 9.6, 9.7, 9.6, 9.8, 9.7, 9.9, 9.8, 10.0, 9.9, 10.1, 10.0, 9.9, 10.1, 10.0, 10.2, 10.1, 10.0] +
    [10.2, 10.4, 10.3, 10.5, 10.6, 10.5, 10.7, 10.8, 10.7, 10.9, 11.0, 10.9, 11.1, 11.0, 11.2, 11.1, 11.3, 11.2] +
    [11.3, 11.4, 11.3, 11.5, 11.4, 11.6, 11.5, 11.7, 11.6, 11.8, 11.7, 11.9, 11.8, 12.0, 11.9, 12.1, 12.0, 12.2] +
    [12.2, 12.3, 12.2, 12.4, 12.3, 12.5, 12.4, 12.5, 12.3, 12.4, 12.5, 12.4, 12.6, 12.5, 12.4, 12.5, 12.6, 12.7] +
    [13.0, 20.0, 23.5, 23.8, 23.6, 23.4, 22.5, 14.0, 11.2, 10.2, 9.8, 10.2, 10.8, 11.2, 11.6, 11.8, 12.0, 12.2])
aw_lo = np.array(
    [0.9, 1.0, 0.9, 1.1, 1.0, 1.2, 1.0, 1.1, 0.9, 1.0, 1.1, 1.2, 1.0, 1.1, 1.2, 1.0, 1.1, 1.0] +
    [1.1, 1.0, 1.2, 1.1, -2.0, -2.0, -1.9, -2.0, -1.9, -1.9, -2.0, -1.9, -1.8, -1.9, -1.8, -1.9, -1.8, -1.8] +
    [-1.8, -1.8, -1.7, -1.8, -1.7, -1.7, -1.6, -1.7, -1.6, -1.6, -1.5, -1.6, -1.5, -1.5, -1.5, -1.4, -1.5, -1.4] +
    [-1.3, -1.2, -1.3, -1.1, -1.2, -1.0, -1.1, -0.9, -1.0, -0.8, -0.9, -0.8, -0.9, -0.7, -0.8, -0.7, -0.8, -0.6] +
    [-0.8, -0.7, -0.8, -0.6, -0.7, -0.5, -0.6, -0.5, -0.4, -0.5, -0.4, -0.3, -0.4, -0.3, -0.2, -0.3, -0.2, -0.1] +
    [-0.1, 0.0, -0.1, 0.1, 0.0, 0.1, 0.0, 0.2, 0.1, 0.0, 0.1, 0.2, 0.1, 0.0, 0.1, 0.2, 0.1, 0.0] +
    [0.0, -0.1, 0.0, 0.1, 0.0, 0.1, 0.2, 0.1, 0.2, 0.3, 0.2, 0.3, 0.4, 0.3, 0.5, 0.4, 0.5, 0.6] +
    [1.0, 1.1, 1.0, 1.2, 1.1, 1.3, 1.2, 1.4, 1.3, 1.5, 1.4, 1.6, 1.5, 1.7, 1.6, 1.8, 1.7, 1.8] +
    [2.8, 2.6, 2.5, 2.7, 2.6, 2.8, 2.7, 2.9, 3.0, 3.1, 3.0, 3.2, 3.3, 3.6, 4.0, 4.6, 5.4, 6.5] +
    [7.5, 10.0, 14.5, 15.0, 15.2, 14.8, 12.0, 9.0, 8.5, 8.3, 8.2, 8.5, 9.0, 9.5, 10.0, 10.4, 10.8, 11.2])
tb = t[:len(ca_hi)]

carlos = [c45, c75, c105, c135, c165, c195, c225]
carlos_lo = [c45_lo, c75_lo, c105_lo, c135_lo, c165_lo, c195_lo, c225_lo]
austin = [a45, a75, a105, a135, a165, a195, a225]
austin_lo = [a45_lo, a75_lo, a105_lo, a135_lo, a165_lo, a195_lo, a225_lo]

fig, axes = plt.subplots(3, 1, figsize=(14, 10), dpi=150, sharex=True,
                         gridspec_kw={"height_ratios": [3, 3, 2]})


def rounds(ax):
    tr = ax.get_xaxis_transform()
    for i, rs in enumerate(round_starts):
        ax.axvline(rs, color="#555555", ls=":", lw=0.8, alpha=0.8, zorder=1)
        ax.text(rs + 3, 0.965, "R%d" % (i + 1), transform=tr, fontsize=8,
                color="#777777", va="top", ha="left")


for ax, main, lo, name in [(axes[0], carlos, carlos_lo, "CARLOS ADAMES"),
                           (axes[1], austin, austin_lo, "AUSTIN WILLIAMS")]:
    for lab, col, y, ylo in zip(lines, colors, main, lo):
        ax.fill_between(t, ylo, y, color=col, alpha=0.09, lw=0)
        ax.plot(t, ylo, color=col, lw=0.9, ls=":", alpha=0.6)
        ax.plot(t, y, color=col, lw=1.3, alpha=0.85, label=lab)
    rounds(ax)
    ax.set_ylim(0, 1.15)
    ax.set_yticks(np.arange(0, 1.1501, 0.05))
    ax.set_yticklabels(["%.2f" % v for v in np.arange(0, 1.1501, 0.05)])
    ax.grid(True, axis="y", color="#dddddd", lw=0.8)
    ax.set_axisbelow(True)
    ax.set_ylabel("Prob", fontsize=7)
    ax.tick_params(labelsize=7)
    ax.set_title(name + " \u2014 Power Head Strikes Landed R10 Under Full Fight (Event 16235)",
                 fontsize=10)
    ax.legend(loc="upper right", ncol=4, fontsize=6, framealpha=0.8)

ax = axes[2]
ax.fill_between(tb, ca_lo, ca_hi, color="red", alpha=0.13)
ax.fill_between(tb, aw_lo, aw_hi, color="blue", alpha=0.13)
ax.plot(t, truth_ca, drawstyle="steps-post", color="red", alpha=0.7, lw=1.8,
        label="Truth CARLOS ADAMES: 17")
ax.plot(t, truth_aw, drawstyle="steps-post", color="blue", alpha=0.7, lw=1.8,
        label="Truth AUSTIN WILLIAMS: 12")
ax.plot(t, pred_ca, color="red", ls=":", alpha=0.6, lw=1.8,
        label="Predicted CARLOS ADAMES: 10.9")
ax.plot(t, pred_aw, color="blue", ls=":", alpha=0.6, lw=1.8,
        label="Predicted AUSTIN WILLIAMS: 8.2")
rounds(ax)
ax.set_ylim(-4.35, 25)
ax.set_yticks([0, 5, 10, 15, 20, 25])
ax.grid(True, axis="y", color="#dddddd", lw=0.8)
ax.set_axisbelow(True)
ax.set_ylabel("Count", fontsize=7)
ax.tick_params(labelsize=7)
ax.legend(loc="upper left", fontsize=7, framealpha=0.8)
ax.set_xlabel("Fight time (seconds)", fontsize=10)
ax.set_xlim(-108, 2268)
ax.set_xticks([0, 500, 1000, 1500, 2000])

fig.tight_layout()
fig.savefig("out.png", dpi=150)
